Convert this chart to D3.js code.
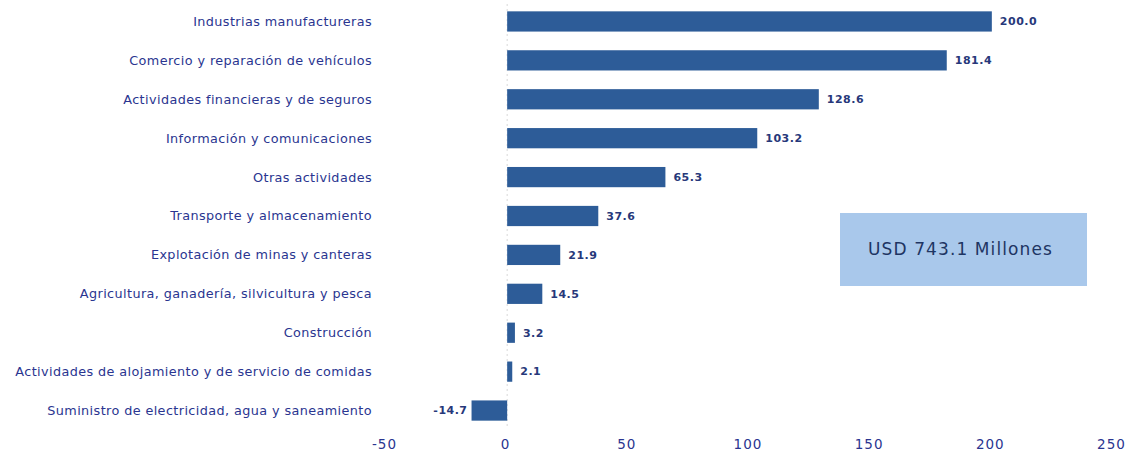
<!DOCTYPE html>
<meta charset="utf-8">
<head>
  <script src="https://d3js.org/d3.v7.min.js"></script>
  <style>
    body { margin: 0; background: #fff; }
    text { font-family: "DejaVu Sans", "Open Sans", sans-serif; }
  </style>
</head>
<body>
<div id="container"></div>
<script>
// sectors and values (USD millones)
var sectors = [
  "Industrias manufactureras",
  "Comercio y reparación de vehículos",
  "Actividades financieras y de seguros",
  "Información y comunicaciones",
  "Otras actividades",
  "Transporte y almacenamiento",
  "Explotación de minas y canteras",
  "Agricultura, ganadería, silvicultura y pesca",
  "Construcción",
  "Actividades de alojamiento y de servicio de comidas",
  "Suministro de electricidad, agua y saneamiento"
];
var values = [200.0, 181.4, 128.6, 103.2, 65.3, 37.6, 21.9, 14.5, 3.2, 2.1, -14.7];
var xTicks = [-50, 0, 50, 100, 150, 200, 250];
var totalLabel = "USD 743.1 Millones";

var width = 1129, height = 453;

var svg = d3.select("#container").append("svg")
  .attr("width", width)
  .attr("height", height);

// scales
var x = d3.scaleLinear().domain([-50, 250]).range([386, 1113]);
var y = d3.scaleBand().domain(sectors).range([2, 430]).paddingInner(0.48).paddingOuter(0.24);

// faint zero line
svg.append("line")
  .attr("x1", x(0)).attr("x2", x(0))
  .attr("y1", 4).attr("y2", 428)
  .attr("stroke", "#d8d8d8")
  .attr("stroke-dasharray", "2,3");

var data = sectors.map(function(s, i) { return { name: s, value: values[i] }; });

// bars
svg.selectAll("rect.bar")
  .data(data)
  .enter().append("rect")
  .attr("class", "bar")
  .attr("x", function(d) { return x(Math.min(0, d.value)); })
  .attr("y", function(d) { return y(d.name); })
  .attr("width", function(d) { return Math.abs(x(d.value) - x(0)); })
  .attr("height", y.bandwidth())
  .attr("fill", "#2d5c98");

// value labels
svg.selectAll("text.val")
  .data(data)
  .enter().append("text")
  .attr("class", "val")
  .attr("x", function(d) { return d.value >= 0 ? x(d.value) + 8 : x(d.value) - 4; })
  .attr("y", function(d) { return y(d.name) + y.bandwidth() / 2; })
  .attr("dy", "0.35em")
  .attr("text-anchor", function(d) { return d.value >= 0 ? "start" : "end"; })
  .attr("font-size", 11)
  .attr("font-weight", 600)
  .attr("letter-spacing", 0.5)
  .attr("fill", "#27387a")
  .text(function(d) { return d.value.toFixed(1); });

// category labels
svg.selectAll("text.cat")
  .data(data)
  .enter().append("text")
  .attr("class", "cat")
  .attr("x", 372)
  .attr("y", function(d) { return y(d.name) + y.bandwidth() / 2; })
  .attr("dy", "0.35em")
  .attr("text-anchor", "end")
  .attr("font-size", 12.8)
  .attr("letter-spacing", 0.4)
  .attr("fill", "#2a3590")
  .text(function(d) { return d.name; });

// x axis
var xAxis = d3.axisBottom(x).tickValues(xTicks).tickSize(0).tickPadding(0)
  .tickFormat(function(d) { return String(d); });
var gx = svg.append("g")
  .attr("transform", "translate(-2,439)")
  .call(xAxis);
gx.select(".domain").remove();
gx.selectAll("text")
  .attr("font-size", 13.5)
  .attr("letter-spacing", 1)
  .attr("fill", "#2a3590")
  .style("font-family", "\"DejaVu Sans\", sans-serif");

// total box
svg.append("rect")
  .attr("x", 840).attr("y", 213)
  .attr("width", 247).attr("height", 73)
  .attr("fill", "#a9c8eb");
svg.append("text")
  .attr("x", 840 + 247 / 2 - 3).attr("y", 213 + 73 / 2)
  .attr("dy", "0.35em")
  .attr("text-anchor", "middle")
  .attr("font-size", 17)
  .attr("letter-spacing", 1.1)
  .attr("fill", "#1e3563")
  .text(totalLabel);
</script>
</body>
